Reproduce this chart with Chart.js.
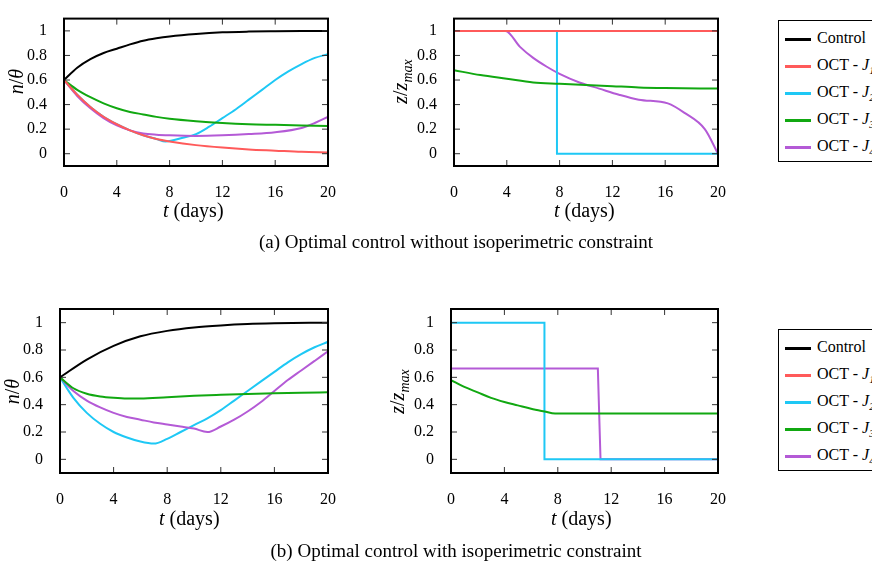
<!DOCTYPE html>
<html><head><meta charset="utf-8">
<script src="https://cdn.jsdelivr.net/npm/chart.js@4/dist/chart.umd.min.js"></script>
<style>
body{margin:0;width:872px;height:566px;position:relative;background:#fff;font-family:"Liberation Serif","DejaVu Serif",serif;overflow:hidden}
.c{position:absolute}
.t{position:absolute;font-size:20px;white-space:nowrap;color:#000}
.yl{position:absolute;font-size:20px;transform:rotate(-90deg);transform-origin:center;white-space:nowrap}
.cap{position:absolute;font-size:19px;white-space:nowrap;transform:translateX(-50%)}
.leg{position:absolute;border:1.5px solid #000;padding:3px 20px 2px 6px;font-size:16px;background:#fff}
.leg div{height:27px;line-height:27px;white-space:nowrap}
.leg span.l{display:inline-block;width:26px;height:2.5px;vertical-align:middle;margin-right:6px}
</style></head><body>
<div class="c" style="left:0;top:0;width:345px;height:200px"><canvas id="c1"></canvas></div>
<div class="c" style="left:390px;top:0;width:345px;height:200px"><canvas id="c2"></canvas></div>
<div class="c" style="left:0;top:290px;width:345px;height:220px"><canvas id="c3"></canvas></div>
<div class="c" style="left:390px;top:290px;width:345px;height:220px"><canvas id="c4"></canvas></div>

<div class="t" style="left:163px;top:199px"><i>t</i> (days)</div>
<div class="t" style="left:554px;top:199px"><i>t</i> (days)</div>
<div class="t" style="left:159px;top:507px"><i>t</i> (days)</div>
<div class="t" style="left:551px;top:507px"><i>t</i> (days)</div>
<div class="yl" style="left:4px;top:70px"><i>n</i>/<i>θ</i></div>
<div class="yl" style="left:380px;top:68px"><i>z</i>/<i>z<sub style="font-size:14px">max</sub></i></div>
<div class="yl" style="left:0px;top:380px"><i>n</i>/<i>θ</i></div>
<div class="yl" style="left:377px;top:378px"><i>z</i>/<i>z<sub style="font-size:14px">max</sub></i></div>
<div class="cap" style="left:456px;top:231px">(a) Optimal control without isoperimetric constraint</div>
<div class="cap" style="left:456px;top:540px">(b) Optimal control with isoperimetric constraint</div>

<div class="leg" style="left:778px;top:20px" id="lg1"></div>
<div class="leg" style="left:778px;top:329px" id="lg2"></div>

<script>
const names=['Control','OCT - J1','OCT - J2','OCT - J3','OCT - J4'];
const colors=['#000000','#ff5a5a','#1ec8f5','#11a811','#b45ad6'];
const xTicks=[0,4,8,12,16,20];
const yTicks=[0,0.2,0.4,0.6,0.8,1];

// (a) left: n/theta
const tA=[0,1,2,3,4,5,6,7,8,10,12,14,16,18,20];
const aCtrl=[0.6,0.70,0.77,0.82,0.855,0.89,0.92,0.94,0.955,0.975,0.988,0.994,0.997,0.999,1];
const aJ1=[0.6,0.48,0.38,0.30,0.24,0.19,0.15,0.12,0.10,0.07,0.05,0.035,0.025,0.015,0.01];
const tAJ2=[0,1,2,3,4,5,6,7,7.7,9,10,11,12,13,14,15,16,17,18,19,20];
const aJ2=[0.6,0.48,0.38,0.30,0.24,0.19,0.15,0.12,0.10,0.13,0.16,0.22,0.29,0.36,0.44,0.52,0.60,0.67,0.73,0.78,0.81];
const aJ3=[0.6,0.52,0.46,0.41,0.37,0.34,0.32,0.30,0.285,0.265,0.25,0.24,0.235,0.23,0.225];
const tAJ4=[0,1,2,3,4,5,6,7,8,10,12,14,16,18,19,20];
const aJ4=[0.6,0.47,0.37,0.29,0.23,0.19,0.165,0.155,0.15,0.145,0.15,0.16,0.175,0.21,0.25,0.30];
// (a) right: z/zmax
const tZ1=[0,20]; const zJ1=[1,1];
const tZ2=[0,7.8,7.8,20]; const zJ2=[1,1,0,0];
const tZ3=[0,2,4,6,8,10,12,14,16,20]; const zJ3=[0.68,0.64,0.61,0.58,0.57,0.56,0.55,0.54,0.535,0.53];
const tZ4=[0,3.9,5,6,7,8,9.5,11,12.5,14,16.2,17.5,19,20]; const zJ4=[1,1,0.87,0.78,0.71,0.65,0.58,0.53,0.48,0.44,0.41,0.33,0.2,0];

// (b) left
const tB=[0,2,4,6,8,10,12,14,16,20]; const bCtrl=[0.6,0.73,0.83,0.90,0.94,0.965,0.98,0.99,0.995,1];
const tBJ2=[0,1,2,3,4,5,6,7,8,9,10,11,12,13,14,15,16,17,18,19,20];
const bJ2=[0.6,0.45,0.34,0.26,0.20,0.16,0.13,0.115,0.15,0.20,0.25,0.30,0.36,0.43,0.50,0.57,0.64,0.71,0.77,0.82,0.86];
const tBJ3=[0,1,2,3,4,5,6,8,10,12,14,16,18,20]; const bJ3=[0.6,0.52,0.48,0.46,0.45,0.445,0.445,0.455,0.465,0.472,0.478,0.483,0.487,0.49];
const bJ4=[0.6,0.50,0.43,0.38,0.34,0.31,0.29,0.27,0.255,0.24,0.225,0.20,0.24,0.29,0.35,0.42,0.50,0.58,0.65,0.72,0.79];
// (b) right
const tW2=[0,7,7,20]; const wJ2=[1,1,0,0];
const tW3=[0,1,2,3,4,5,6,7,7.8,20]; const wJ3=[0.58,0.53,0.49,0.45,0.42,0.395,0.37,0.35,0.335,0.335];
const tW4=[0,11,11.2,20]; const wJ4=[0.665,0.665,0,0];

const pts=(t,v)=>t.map((x,i)=>({x,y:v[i]}));
const ds=(i,t,v,smooth=true)=>({label:names[i],data:pts(t,v),borderColor:colors[i],borderWidth:2,pointRadius:0,tension:smooth?0.4:0,cubicInterpolationMode:smooth?'monotone':'default',fill:false});

const frame={id:'frame',afterDraw(ch){
  const c=ch.ctx,a=ch.chartArea,xs=ch.scales.x,ys=ch.scales.y;
  c.save();c.strokeStyle='#333';c.lineWidth=1;
  xTicks.forEach(v=>{const p=xs.getPixelForValue(v);c.beginPath();c.moveTo(p,a.top);c.lineTo(p,a.top+6);c.moveTo(p,a.bottom);c.lineTo(p,a.bottom-6);c.stroke();});
  yTicks.forEach(v=>{const p=ys.getPixelForValue(v);c.beginPath();c.moveTo(a.left,p);c.lineTo(a.left+6,p);c.moveTo(a.right,p);c.lineTo(a.right-6,p);c.stroke();});
  c.strokeStyle='#000';c.lineWidth=2;c.strokeRect(a.left,a.top,a.right-a.left,a.bottom-a.top);c.restore();}};

function mk(id,datasets,yw,top,right,xh){
  new Chart(document.getElementById(id),{type:'line',data:{datasets},plugins:[frame],
   options:{responsive:true,maintainAspectRatio:false,animation:false,
    layout:{padding:{top,right,left:0,bottom:0}},
    plugins:{legend:{display:false},tooltip:{enabled:false}},
    scales:{
     x:{type:'linear',min:0,max:20,grid:{display:false},border:{display:false},
        afterBuildTicks:s=>{s.ticks=xTicks.map(v=>({value:v}));},
        afterFit:s=>{s.height=xh;},
        ticks:{color:'#000',font:{family:'Liberation Serif',size:16},padding:9,maxRotation:0}},
     y:{type:'linear',min:-0.1,max:1.1,grid:{display:false},border:{display:false},
        afterBuildTicks:s=>{s.ticks=yTicks.map(v=>({value:v}));},
        afterFit:s=>{s.width=yw;},
        ticks:{color:'#000',font:{family:'Liberation Serif',size:16},padding:9,callback:v=>String(+v.toFixed(1))}}}}});
}
mk('c1',[ds(1,tA,aJ1),ds(3,tA,aJ3),ds(4,tAJ4,aJ4),ds(2,tAJ2,aJ2),ds(0,tA,aCtrl)],64,1,13,34);
mk('c2',[ds(1,tZ1,zJ1,false),ds(3,tZ3,zJ3),ds(2,tZ2,zJ2,false),ds(4,tZ4,zJ4)],64,1,12,34);
mk('c3',[ds(3,tBJ3,bJ3),ds(4,tBJ2,bJ4),ds(2,tBJ2,bJ2),ds(0,tB,bCtrl)],60,19,17,37);
mk('c4',[ds(3,tW3,wJ3),ds(2,tW2,wJ2,false),ds(4,tW4,wJ4,false)],61,19,16,37);

const legHTML=names.map((n,i)=>{const lab=i===0?'Control':'OCT - <i>J</i><sub style="font-size:11px"><i>'+i+'</i></sub>';return '<div><span class="l" style="background:'+colors[i]+'"></span>'+lab+'</div>';}).join('');
document.getElementById('lg1').innerHTML=legHTML;
document.getElementById('lg2').innerHTML=legHTML;
</script>
</body></html>
